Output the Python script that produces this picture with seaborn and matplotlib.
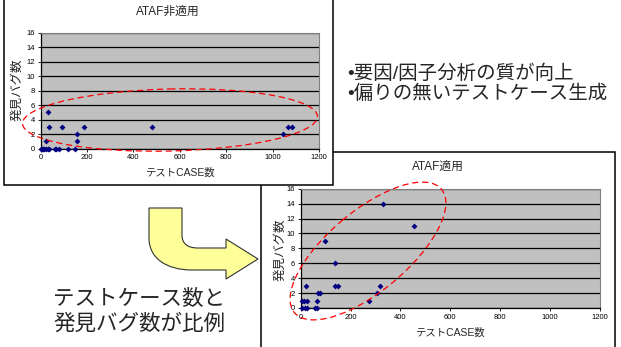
import numpy as np
import pandas as pd
import matplotlib
matplotlib.use("Agg")
import matplotlib.pyplot as plt
import seaborn as sns
from matplotlib.patches import Rectangle, Ellipse, PathPatch
from matplotlib.path import Path
from matplotlib.transforms import Affine2D

# Test cases vs. bugs found, without ATAF
before_cases = [0, 4, 10, 16, 22, 30, 37, 62, 68, 80, 119, 149,
                22, 158,
                158, 1044,
                36, 92, 187, 482, 1068, 1085,
                30]
before_bugs = [0, 0, 0, 0, 0, 0, 0, 0, 0, 0, 0, 0,
               1, 1,
               2, 2,
               3, 3, 3, 3, 3, 3,
               5]

# Test cases vs. bugs found, with ATAF
after_cases = [7, 17, 27, 57, 65,
               4, 12, 27, 64, 273,
               71, 78, 307,
               20, 138, 151, 317,
               138, 98, 453, 331]
after_bugs = [0, 0, 0, 0, 0,
              1, 1, 1, 1, 1,
              2, 2, 2,
              3, 3, 3, 3,
              6, 9, 11, 14]

x_ticks = [0, 200, 400, 600, 800, 1000, 1200]
y_ticks = [0, 2, 4, 6, 8, 10, 12, 14, 16]

title_before = "ATAF非適用"
title_after = "ATAF適用"
x_label = "テストCASE数"
y_label = "発見バグ数"
points_text = ["•要因/因子分析の質が向上", "•偏りの無いテストケース生成"]
summary_text = ["テストケース数と", "発見バグ数が比例"]

W, H = 621, 347
sns.set_theme(style="white")
plt.rcParams['font.family'] = ['Liberation Sans', 'Noto Sans CJK JP']

fig = plt.figure(figsize=(W / 100, H / 100), dpi=100)
fig.patch.set_facecolor("white")
# pixel coordinates measured from the top-left corner
px = Affine2D().scale(1 / W, -1 / H).translate(0, 1) + fig.transFigure


def panel(area, cases, bugs, z):
    left, top, right, bottom = area
    ax = fig.add_axes([left / W, 1 - bottom / H, (right - left) / W, (bottom - top) / H])
    ax.set_zorder(z)
    ax.set_facecolor("#C0C0C0")
    df = pd.DataFrame({"cases": cases, "bugs": bugs})
    sns.scatterplot(data=df, x="cases", y="bugs", ax=ax, marker="D", s=9,
                    color="#000080", edgecolor="#000080", linewidth=0,
                    clip_on=False, zorder=4)
    ax.set_xlim(0, 1200)
    ax.set_ylim(0, 16)
    ax.set_xticks(x_ticks)
    ax.set_yticks(y_ticks)
    ax.set_xlabel("")
    ax.set_ylabel("")
    ax.set_axisbelow(True)
    ax.grid(False)
    ax.yaxis.grid(True, color="black", lw=0.9)
    ax.tick_params(axis="both", direction="out", length=2.5, width=0.6,
                   labelsize=5.5, pad=1.5, colors="black",
                   bottom=True, left=True)
    for side in ("left", "bottom"):
        ax.spines[side].set_color("black")
        ax.spines[side].set_linewidth(0.9)
    for side in ("top", "right"):
        ax.spines[side].set_color("#808080")
        ax.spines[side].set_linewidth(0.8)
    return ax


# chart with ATAF (drawn underneath)
fig.add_artist(Rectangle((261, 152), 354, 200, transform=px, facecolor="white",
                         edgecolor="black", lw=1.1, zorder=0.1))
ax2 = panel((300.7, 188.7, 600, 308), after_cases, after_bugs, 0.2)
fig.text(438, 167, title_after, transform=px, ha="center", va="center", fontsize=8.5, zorder=0.25)
fig.text(450, 333, x_label, transform=px, ha="center", va="center", fontsize=7.5, zorder=0.25)
fig.text(280, 250, y_label, transform=px, ha="center", va="center", fontsize=9,
         rotation=90, zorder=0.25)
fig.add_artist(Ellipse((368, 251), 192, 80, angle=-40, transform=px, fill=False,
                       edgecolor="#FF0000", lw=0.9, ls=(0, (5, 3)), zorder=0.3))

# chart without ATAF (drawn on top)
fig.add_artist(Rectangle((4, -5), 329, 190, transform=px, facecolor="white",
                         edgecolor="black", lw=1.1, zorder=0.4))
ax1 = panel((40.7, 32.7, 319, 148.7), before_cases, before_bugs, 0.5)
fig.text(168, 12, title_before, transform=px, ha="center", va="center", fontsize=8.5, zorder=0.55)
fig.text(180, 173, x_label, transform=px, ha="center", va="center", fontsize=7.5, zorder=0.55)
fig.text(17, 90, y_label, transform=px, ha="center", va="center", fontsize=9,
         rotation=90, zorder=0.55)
fig.add_artist(Ellipse((170, 120), 295, 62, angle=-1.4, transform=px, fill=False,
                       edgecolor="#FF0000", lw=0.9, ls=(0, (5, 3)), zorder=0.6))

# curved yellow arrow
verts = [(149, 208), (182, 208), (182, 235),
         (182, 244), (188, 248), (198, 248),
         (226, 248), (226, 239), (258, 259), (226, 279), (226, 270), (192, 270),
         (166, 270), (149, 258), (149, 238),
         (149, 208)]
codes = [Path.MOVETO, Path.LINETO, Path.LINETO,
         Path.CURVE4, Path.CURVE4, Path.CURVE4,
         Path.LINETO, Path.LINETO, Path.LINETO, Path.LINETO, Path.LINETO, Path.LINETO,
         Path.CURVE4, Path.CURVE4, Path.CURVE4,
         Path.CLOSEPOLY]
fig.add_artist(PathPatch(Path(verts, codes), transform=px, facecolor="#FFFF99",
                         edgecolor="#333333", lw=0.8, zorder=0.7))

# slide text
for i, line in enumerate(points_text):
    fig.text(347, 74 + 20 * i, line, transform=px, ha="left", va="center",
             fontsize=14, zorder=0.8)
for i, line in enumerate(summary_text):
    fig.text(53, 299 + 25 * i, line, transform=px, ha="left", va="center",
             fontsize=15.5, zorder=0.8)

fig.savefig("out.png", dpi=100)
